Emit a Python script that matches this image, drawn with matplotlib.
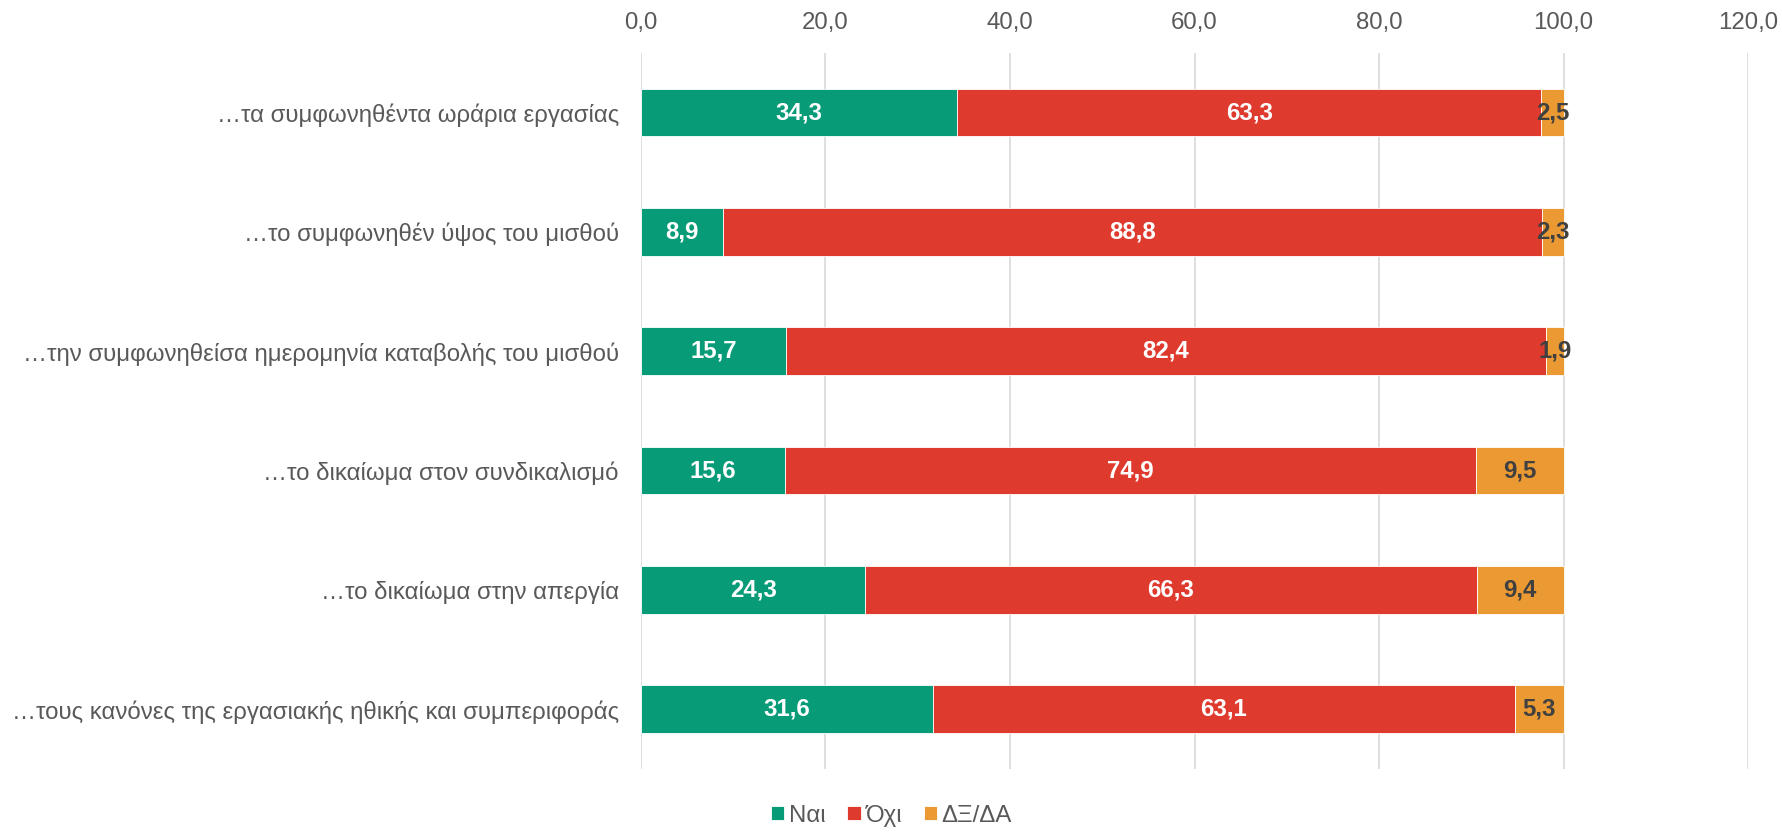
import numpy as np
import matplotlib.pyplot as plt

plt.rcParams['font.family'] = ['Liberation Sans', 'DejaVu Sans']

categories = [
    '…τα συμφωνηθέντα ωράρια εργασίας',
    '…το συμφωνηθέν ύψος του μισθού',
    '…την συμφωνηθείσα ημερομηνία καταβολής του μισθού',
    '…το δικαίωμα στον συνδικαλισμό',
    '…το δικαίωμα στην απεργία',
    '…τους κανόνες της εργασιακής ηθικής και συμπεριφοράς',
]
nai = [34.3, 8.9, 15.7, 15.6, 24.3, 31.6]
ochi = [63.3, 88.8, 82.4, 74.9, 66.3, 63.1]
dk = [2.5, 2.3, 1.9, 9.5, 9.4, 5.3]
series_names = ['Ναι', 'Όχι', 'ΔΞ/ΔΑ']
colors = ['#079B78', '#DF3A2E', '#EB9A33']
label_colors = ['white', 'white', '#404040']
ticks = [0, 20, 40, 60, 80, 100, 120]

fs = 17.3
fig = plt.figure(figsize=(17.83, 8.34), dpi=100)
ax = fig.add_axes([0.3595, 0.078, 0.6209, 0.8585])

y = np.arange(len(categories))
left = np.zeros(len(categories))
for vals, name, col, lcol in zip([nai, ochi, dk], series_names, colors, label_colors):
    vals = np.array(vals)
    ax.barh(y, vals, left=left, height=0.4, color=col, label=name,
            edgecolor='white', linewidth=0.6, zorder=3)
    for yi, l, v in zip(y, left, vals):
        ax.text(l + v / 2, yi, f'{v:.1f}'.replace('.', ','), ha='center', va='center',
                color=lcol, fontsize=fs, fontweight='bold', zorder=4)
    left += vals

ax.set_ylim(len(categories) - 0.5, -0.5)
ax.set_yticks(y)
ax.set_yticklabels(categories, fontsize=fs, color='#595959')
ax.set_xlim(0, 120)
ax.set_xticks(ticks)
ax.set_xticklabels([f'{t:.1f}'.replace('.', ',') for t in ticks], fontsize=fs, color='#595959')
ax.xaxis.tick_top()
ax.tick_params(axis='both', length=0)
ax.tick_params(axis='x', pad=14)
ax.tick_params(axis='y', pad=16)
ax.grid(axis='x', color='#D9D9D9', linewidth=1.2, zorder=0)
for s in ax.spines.values():
    s.set_visible(False)

fig.legend(loc='center', bbox_to_anchor=(0.5, 0.022), ncol=3, frameon=False,
           fontsize=fs, handlelength=0.55, handleheight=0.55, handletextpad=0.2,
           columnspacing=0.9, labelcolor='#595959')

fig.savefig('out.png', dpi=100)
